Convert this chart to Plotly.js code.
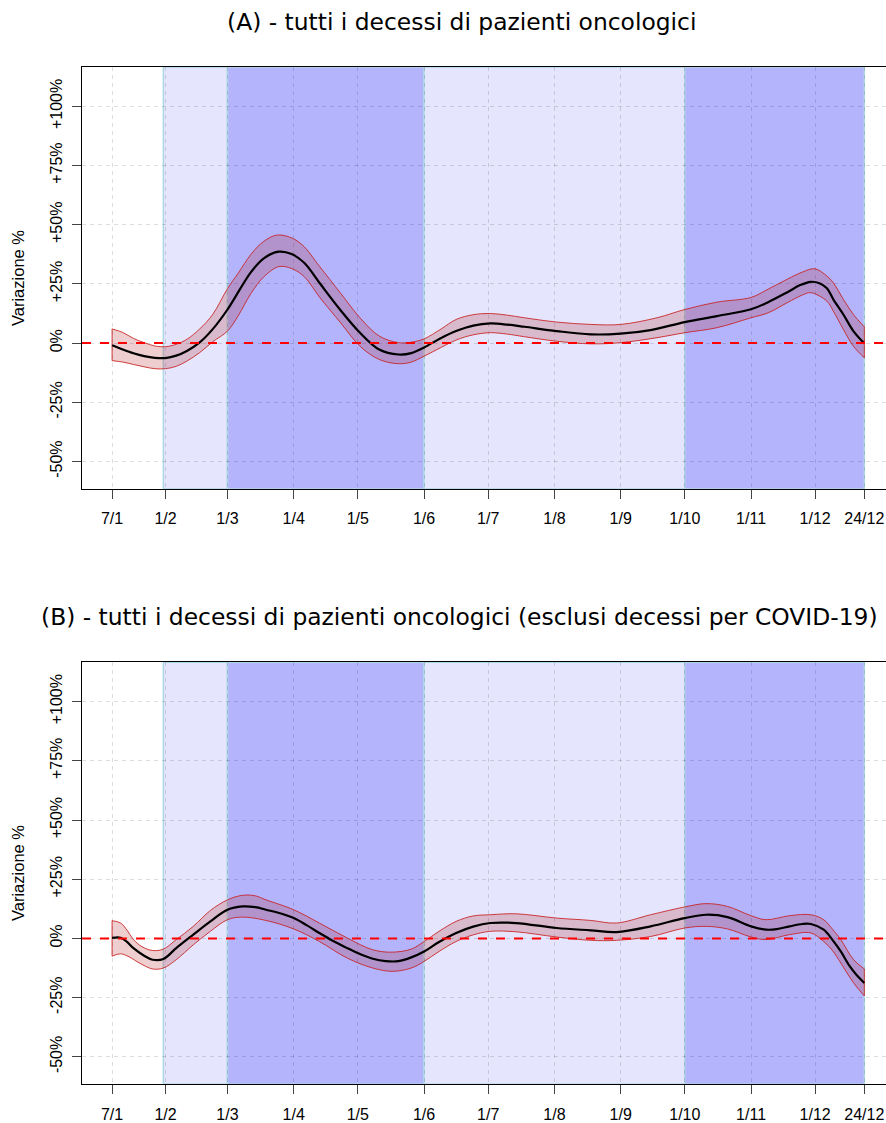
<!DOCTYPE html>
<html>
<head>
<meta charset="utf-8">
<script src="https://cdn.plot.ly/plotly-3.0.1.min.js"></script>
<style>
html,body{margin:0;padding:0;overflow:hidden;background:#fff;}
#chart{width:900px;height:1123px;}
</style>
</head>
<body>
<div id="chart"></div>
<script>
// ---- data (day of year 2020, % variation) ----
const tickDays = [7, 32, 61, 92, 122, 153, 183, 214, 245, 275, 306, 336, 359];
const tickLabels = ["7/1", "1/2", "1/3", "1/4", "1/5", "1/6", "1/7", "1/8", "1/9", "1/10", "1/11", "1/12", "24/12"];
const yTickVals = [-50, -25, 0, 25, 50, 75, 100];
const yTickText = ["-50%", "-25%", "0%", "+25%", "+50%", "+75%", "+100%"];

const titleA = "(A) - tutti i decessi di pazienti oncologici";
const titleB = "(B) - tutti i decessi di pazienti oncologici (esclusi decessi per COVID-19)";
const yTitle = "Variazione %";

// shaded periods [start, end, kind]
const periodStart = [31, 61, 153, 275];
const periodEnd   = [61, 153, 275, 359];
const periodKind  = ["light", "dark", "light", "dark"];

// Panel A
const meanA_days = [7, 12, 17, 22, 27, 32, 37, 42, 48, 54, 61, 67, 72, 78, 85, 91, 97, 104, 114, 123, 132, 141, 147, 153, 161, 168, 176, 184, 192, 200, 215, 231, 245, 259, 275, 290, 306, 314, 323, 329, 334, 338, 341.5, 344.5, 349.2, 353.9, 359];
const meanA_vals = [-0.9, -2.7, -4.3, -5.5, -6.2, -6.3, -5.3, -3.3, 0.3, 5.8, 14.2, 23, 30, 35.8, 38.6, 37.6, 33.8, 25.5, 13.8, 4.4, -2.7, -4.8, -4.2, -1.8, 2.2, 5.1, 7.4, 8.3, 7.8, 6.9, 5.1, 3.7, 4.0, 5.5, 8.9, 11.4, 14.3, 17.3, 21.5, 24.5, 25.9, 25.3, 23.2, 18.5, 12.1, 5.1, -0.1];
const upA_days = [7, 12, 17, 22, 27, 32, 37, 42, 48, 54, 61, 66, 72, 78, 84, 90, 96, 104, 114, 123, 132, 141, 147, 153, 161, 168, 176, 184, 192, 200, 215, 231, 245, 262, 275, 290, 306, 314, 323, 330, 335.9, 341.5, 344.5, 349.2, 353.9, 359];
const upA_vals = [6.0, 4.5, 2.0, 0.2, -1.2, -1.5, -0.5, 1.6, 6, 12, 23, 29.5, 37.5, 43, 45.6, 44.8, 41.5, 32.5, 21, 10.7, 3, 0.2, 0.4, 1.8, 6, 10, 12, 12.5, 11.8, 10.7, 8.9, 7.9, 7.9, 10.7, 14.2, 17.3, 19.3, 22.8, 27, 30, 31.4, 28.3, 25.5, 18.5, 12.1, 6.9];
const loA_days = [7, 12, 17, 22, 27, 32, 37, 42, 48, 54, 61, 66, 72, 78, 85, 91, 97, 104, 114, 123, 132, 141, 147, 153, 161, 168, 176, 184, 192, 200, 215, 231, 245, 262, 275, 290, 306, 314, 323, 330, 334, 341.5, 344.5, 349.2, 353.9, 359];
const loA_vals = [-7.4, -8.0, -9.0, -10.0, -10.8, -10.8, -9.8, -7.6, -4.0, 0.5, 5.1, 11.5, 21, 28, 32.3, 31.5, 28, 19.5, 8.5, -1.3, -6.9, -8.7, -8.0, -5.5, -1.8, 1.3, 3.5, 4.4, 3.8, 2.7, 0.8, -0.3, 0.2, 2.3, 4.4, 6.5, 10.7, 12.8, 17.1, 20.3, 21.3, 17.7, 13.5, 5.8, -1.3, -6.2];

// Panel B
const meanB_days = [7, 11, 14, 17, 22, 26, 31, 37, 45, 53, 61, 68, 74, 79, 86, 92, 98, 104, 110, 117, 123, 129, 135, 141, 147, 153, 160, 168, 176, 184, 196, 215, 231, 243, 259, 275, 285, 295, 306, 313, 318, 324, 330, 334, 340, 344, 348, 352, 355, 359];
const meanB_vals = [0.2, 0.3, -1.5, -4.1, -7.3, -9.0, -8.7, -4.1, 1.6, 7.2, 12.1, 13.5, 13.2, 12.1, 10.5, 8.6, 5.6, 2.3, -0.9, -4.1, -6.6, -8.6, -9.6, -9.6, -8, -5.5, -1.5, 2.3, 5.0, 6.5, 6.5, 4.4, 3.4, 2.7, 5.1, 8.6, 10.0, 9.0, 5.1, 3.7, 3.9, 5.1, 6.1, 6.1, 3.7, -0.5, -5.5, -11.5, -15, -18.8];
const upB_days = [7, 11, 14, 17, 21, 26, 31, 37, 45, 53, 61, 68, 74, 79, 92, 104, 117, 129, 138, 147, 153, 160, 168, 176, 184, 196, 215, 231, 243, 259, 275, 285, 295, 306, 313, 324, 334, 340, 344, 348, 354, 359];
const upB_vals = [7.5, 6.5, 3.5, -0.5, -3.5, -5.1, -4.5, -0.5, 5.1, 11.8, 16.3, 18.2, 18, 16.3, 12.1, 6.5, 0.2, -4.8, -5.8, -4.5, -1.3, 3, 7.2, 9.5, 10.0, 10.4, 8.6, 7.6, 6.5, 10.0, 13.3, 14.7, 13.5, 9.6, 7.9, 9.6, 10.0, 7.9, 4, -0.5, -9.0, -12.9];
const loB_days = [7, 11, 15, 20, 26, 31, 37, 45, 53, 61, 68, 79, 92, 104, 117, 129, 138, 147, 153, 160, 168, 176, 184, 196, 215, 231, 243, 259, 275, 285, 295, 306, 313, 324, 334, 340, 344, 348, 354, 359];
const loB_vals = [-7.5, -6.5, -7.8, -10.5, -12.9, -12.5, -9.0, -2.7, 3.0, 7.9, 9.0, 7.6, 4.0, -1.3, -8.3, -12.5, -13.9, -12.5, -9.7, -5.5, -1.3, 1.5, 3.0, 2.8, 0.6, -0.8, -0.8, 0.8, 4.4, 5.1, 4.0, 0.6, -0.5, 1.6, 2.3, -1.3, -5, -10.4, -18.8, -24.3];

// ---- styling ----
const W = 900, H = 1123;
const bandLine = 'rgba(200,30,30,0.85)';
const bandFill = 'rgba(178,34,34,0.22)';
const lightCol = '#e5e5fd';
const darkCol = '#b4b4fd';
const edgeCol = '#add8e6';
const gridCol = 'rgba(0,0,0,0.13)';

function panelTraces(xa, ya, md, mv, ud, uv, ld, lv) {
  const n1 = ud.length - 1, n2 = ld.length - 1;
  return [
    {x: ld, y: lv, xaxis: xa, yaxis: ya, type: 'scatter', mode: 'lines',
     line: {color: bandLine, width: 1, shape: 'spline', smoothing: 1}, hoverinfo: 'skip', showlegend: false},
    {x: ud, y: uv, xaxis: xa, yaxis: ya, type: 'scatter', mode: 'lines', fill: 'tonexty', fillcolor: bandFill,
     line: {color: bandLine, width: 1, shape: 'spline', smoothing: 1}, hoverinfo: 'skip', showlegend: false},
    {x: [ud[0], ld[0], null, ud[n1], ld[n2]], y: [uv[0], lv[0], null, uv[n1], lv[n2]], xaxis: xa, yaxis: ya,
     type: 'scatter', mode: 'lines', line: {color: bandLine, width: 1}, hoverinfo: 'skip', showlegend: false},
    {x: md, y: mv, xaxis: xa, yaxis: ya, type: 'scatter', mode: 'lines',
     line: {color: '#000', width: 2.2, shape: 'spline', smoothing: 1}, showlegend: false}
  ];
}

const data = [].concat(
  panelTraces('x', 'y', meanA_days, meanA_vals, upA_days, upA_vals, loA_days, loA_vals),
  panelTraces('x2', 'y2', meanB_days, meanB_vals, upB_days, upB_vals, loB_days, loB_vals)
);

const xDom = [82 / W, 894.4 / W];
const yDomA = [1 - 489 / H, 1 - 67 / H];
const yDomB = [1 - 1084.3 / H, 1 - 662.3 / H];
const tickFont = {family: 'Liberation Sans, Arial, sans-serif', size: 16, color: '#000'};

function xaxisDef(anchor) {
  return {domain: xDom, anchor: anchor, range: [-7.08, 373.08], tickmode: 'array', tickvals: tickDays, ticktext: tickLabels,
    ticks: 'outside', ticklen: 9, tickcolor: '#444', tickwidth: 1, ticklabelstandoff: 6, tickfont: tickFont,
    showgrid: true, gridcolor: gridCol, griddash: '4px,4px', gridwidth: 1,
    showline: true, mirror: true, linecolor: '#000', linewidth: 1, zeroline: false, fixedrange: true};
}
function yaxisDef(anchor, dom) {
  return {domain: dom, anchor: anchor, range: [-61.6, 116.6], tickmode: 'array', tickvals: yTickVals, ticktext: yTickText,
    tickangle: -90, ticks: 'outside', ticklen: 9, tickcolor: '#444', tickwidth: 1, ticklabelstandoff: 4, tickfont: tickFont,
    showgrid: true, gridcolor: gridCol, griddash: '4px,4px', gridwidth: 1,
    showline: true, mirror: true, linecolor: '#000', linewidth: 1, zeroline: false, fixedrange: true};
}

const shapes = [];
[['x', 'y'], ['x2', 'y2']].forEach(([xa, ya]) => {
  for (let i = 0; i < periodStart.length; i++) {
    shapes.push({type: 'rect', xref: xa, yref: ya + ' domain', x0: periodStart[i], x1: periodEnd[i], y0: 0, y1: 1,
      fillcolor: periodKind[i] === 'dark' ? darkCol : lightCol, line: {color: edgeCol, width: 1.5}, layer: 'below'});
  }
  shapes.push({type: 'line', xref: xa + ' domain', yref: ya, x0: 0, x1: 1, y0: 0, y1: 0,
    line: {color: '#ff0000', width: 2, dash: 'dash'}, layer: 'above'});
});

const titleFont = {family: 'DejaVu Sans, Verdana, sans-serif', size: 23.4, color: '#000'};
const annFont = {family: 'Liberation Sans, Arial, sans-serif', size: 16.5, color: '#000'};
const annotations = [
  {text: titleA, xref: 'paper', yref: 'paper', x: 461 / W, y: 1 - 22 / H, xanchor: 'center', yanchor: 'middle', showarrow: false, font: titleFont},
  {text: titleB, xref: 'paper', yref: 'paper', x: 460 / W, y: 1 - 617 / H, xanchor: 'center', yanchor: 'middle', showarrow: false, font: titleFont},
  {text: yTitle, xref: 'paper', yref: 'paper', x: 18 / W, y: 1 - 278 / H, xanchor: 'center', yanchor: 'middle', textangle: -90, showarrow: false, font: annFont},
  {text: yTitle, xref: 'paper', yref: 'paper', x: 18 / W, y: 1 - 873 / H, xanchor: 'center', yanchor: 'middle', textangle: -90, showarrow: false, font: annFont}
];

const layout = {
  width: W, height: H, margin: {l: 0, r: 0, t: 0, b: 0},
  paper_bgcolor: '#fff', plot_bgcolor: '#fff', showlegend: false,
  xaxis: xaxisDef('y'), yaxis: yaxisDef('x', yDomA),
  xaxis2: xaxisDef('y2'), yaxis2: yaxisDef('x2', yDomB),
  shapes: shapes, annotations: annotations
};

Plotly.newPlot('chart', data, layout, {staticPlot: true, displayModeBar: false});
</script>
</body>
</html>
